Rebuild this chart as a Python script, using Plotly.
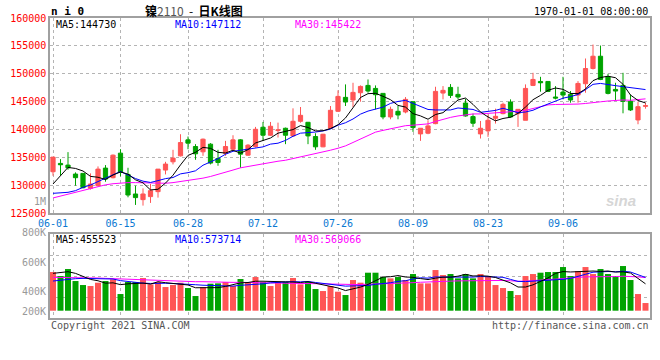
import plotly.graph_objects as go
import pandas as pd

# ---------------- data ----------------
holidays = ["2021-06-14", "2021-09-20", "2021-09-21"]
dates = [d.strftime("%Y-%m-%d") for d in pd.bdate_range("2021-06-01", "2021-09-23")
         if d.strftime("%Y-%m-%d") not in holidays]

open_ = [132450, 133940, 133640, 132030, 132150, 129470, 129950, 133100, 131380, 135780,
         131970, 128460, 127450, 127990, 128880, 132750, 134230, 135300, 138160, 136970,
         136020, 137390, 134830, 135720, 136490, 138160, 135420, 136970, 140420, 138990,
         139830, 140240, 138870, 141490, 141310, 138760, 136910, 140240, 143280, 145780,
         145300, 146610, 147920, 147380, 146490, 142270, 143280, 143160, 145000, 139230,
         139350, 141070, 146550, 147560, 146310, 144760, 142330, 139230, 139770, 142030,
         142860, 144940, 142860, 141670, 147920, 148630, 148630, 145840, 146730, 146310,
         146190, 148220, 150950, 153150, 149460, 147200, 147920, 145060, 141730, 144170]
high = [135070, 134710, 135960, 132330, 132150, 132150, 133400, 133640, 135540, 136490,
        133160, 129950, 129470, 130250, 132920, 134230, 136380, 139170, 138760, 137390,
        138400, 137570, 136380, 137980, 138990, 138280, 137390, 140480, 141370, 141370,
        141250, 140360, 143810, 144050, 141370, 139350, 139230, 144230, 147030, 148100,
        148390, 147920, 148990, 147920, 146490, 144110, 144230, 145830, 145000, 140240,
        141670, 147680, 147800, 148160, 147680, 145540, 142860, 141550, 142740, 143750,
        144820, 145420, 143630, 148100, 150180, 149460, 148630, 147800, 149460, 146910,
        148690, 152740, 155240, 155060, 150000, 148390, 150180, 146250, 145000, 144820]
low = [131730, 131730, 132810, 129950, 129470, 129240, 129830, 130660, 131260, 131620,
       127870, 126500, 126380, 126860, 127810, 131970, 133760, 135190, 136490, 134590,
       135300, 133760, 133520, 135300, 136380, 133160, 135300, 136790, 137980, 138870,
       138580, 137390, 138760, 141250, 137390, 136380, 136850, 140180, 143160, 144230,
       144050, 145000, 146610, 143630, 141850, 141850, 141850, 142920, 139590, 137980,
       139170, 140960, 145420, 145660, 145420, 142330, 140480, 138400, 138700, 141080,
       142740, 142150, 140480, 141670, 147800, 146790, 146730, 145420, 145420, 144820,
       144820, 146610, 150770, 148870, 146310, 145300, 142920, 143340, 140960, 143750]
close = [135070, 133700, 133160, 131380, 129590, 130250, 132920, 131140, 135420, 132330,
         128280, 127810, 128460, 129060, 132920, 133820, 134890, 137680, 137570, 135660,
         138280, 134000, 134110, 136970, 138160, 135600, 137210, 140060, 138990, 140600,
         139950, 138990, 141490, 142560, 138870, 136910, 139170, 143460, 145950, 144940,
         146670, 147740, 146910, 146250, 142270, 143630, 142620, 145420, 140360, 140240,
         140660, 146850, 147030, 146130, 145840, 142440, 141140, 140240, 141670, 142380,
         144530, 142270, 143630, 147380, 148990, 148390, 146850, 145660, 146190, 145300,
         148270, 150950, 153150, 148990, 146490, 146910, 145060, 143520, 144110, 144290]
volume = [663500, 594900, 715000, 509100, 440400, 423300, 480500, 509100, 537700, 286000,
          491900, 491900, 560600, 451900, 491900, 406100, 440400, 480500, 389000, 251700,
          406100, 463300, 469000, 491900, 423300, 543400, 491900, 577700, 491900, 423300,
          491900, 491900, 560600, 451900, 491900, 371800, 337500, 423300, 326000, 268800,
          526200, 480500, 652100, 652100, 577700, 554800, 577700, 526200, 629200, 469000,
          469000, 697800, 612000, 629200, 554800, 629200, 554800, 629200, 594900, 440400,
          389000, 337500, 268800, 594900, 629200, 652100, 663500, 663500, 749300, 594900,
          680700, 749300, 629200, 715000, 629200, 594900, 766500, 526200, 286000, 131600]

# moving-average values for the first days (history before 06-01)
ma5_head = [130250, 131730, 133220, 133040]
ma10_head = [128580, 128640, 128760, 129060, 129650, 130070, 130720, 131320, 131910]
ma30_head = [127750, 128100, 128450, 128800, 129150, 129500, 129800, 130100, 130300, 130450,
             130500, 130500, 130450, 130400, 130350, 130380, 130500, 130700, 130850, 131100,
             131300, 131600, 131950, 132300, 132750, 133150, 133400, 133600, 133850]
vma5_head = [640600, 652100, 669200, 640600]
vma10_head = [509100, 526200, 543400, 549100, 554800, 554800, 554800, 554800, 543400]
vma30_head = [572000, 572000, 572000, 566300, 566300, 560600, 560600, 554800, 549100, 543400,
              537700, 532000, 526200, 520500, 514800, 514800, 509100, 503400, 503400, 497600,
              497600, 491900, 491900, 491900, 486200, 486200, 486200, 486200, 480500]

price_ticks = [125000, 130000, 135000, 140000, 145000, 150000, 155000, 160000]
x_tick_dates = ["2021-06-01", "2021-06-15", "2021-06-28", "2021-07-12",
                "2021-07-26", "2021-08-09", "2021-08-23", "2021-09-06"]
x_tick_text = ["06-01", "06-15", "06-28", "07-12", "07-26", "08-09", "08-23", "09-06"]
vol_tick_labels = ["1M", "800K", "600K", "400K", "200K"]

price_ma_text = ["MA5:144730", "MA10:147112", "MA30:145422"]
vol_ma_text = ["MA5:455523", "MA10:573714", "MA30:569066"]


def moving_avg(vals, n, head):
    out = []
    for i in range(len(vals)):
        if i < n - 1:
            out.append(head[i])
        else:
            out.append(sum(vals[i - n + 1:i + 1]) / n)
    return out


ma5 = moving_avg(close, 5, ma5_head)
ma10 = moving_avg(close, 10, ma10_head)
ma30 = moving_avg(close, 30, ma30_head)
vma5 = moving_avg(volume, 5, vma5_head)
vma10 = moving_avg(volume, 10, vma10_head)
vma30 = moving_avg(volume, 30, vma30_head)

RED = "#ff5555"
GREEN = "#00a300"
MONO = "DejaVu Sans Mono"
vol_colors = [RED if c >= o else GREEN for o, c in zip(open_, close)]

fig = go.Figure()
fig.add_trace(go.Candlestick(
    x=dates, open=open_, high=high, low=low, close=close,
    increasing=dict(line=dict(color=RED, width=1), fillcolor=RED),
    decreasing=dict(line=dict(color=GREEN, width=1), fillcolor=GREEN),
    whiskerwidth=0, xaxis="x", yaxis="y", showlegend=False))
for vals, col in [(ma30, "#ff00ff"), (ma10, "#0000ff"), (ma5, "#000000")]:
    fig.add_trace(go.Scatter(x=dates, y=vals, mode="lines", line=dict(color=col, width=1),
                             xaxis="x", yaxis="y", showlegend=False))

fig.add_trace(go.Bar(x=dates, y=volume, marker=dict(color=vol_colors, line=dict(width=0)),
                     xaxis="x2", yaxis="y2", showlegend=False))
for vals, col in [(vma30, "#ff00ff"), (vma10, "#0000ff"), (vma5, "#000000")]:
    fig.add_trace(go.Scatter(x=dates, y=vals, mode="lines", line=dict(color=col, width=1),
                             xaxis="x2", yaxis="y2", showlegend=False))

T, B = 18, 42
H = 360 - T - B


def py(ypx):
    return (360 - B - ypx) / H


def px(xpx):
    return (xpx - 50) / 600


grid = dict(showgrid=True, gridcolor="#b4b4b4", griddash="dot", gridwidth=1)
frame = dict(showline=True, mirror=True, linecolor="#a0a0a0", linewidth=1.5,
             zeroline=False, automargin=False)

vol_lo, vol_hi = -125300, 1311000
fig.update_layout(
    width=660, height=360,
    margin=dict(l=50, r=10, t=T, b=B, autoexpand=False),
    paper_bgcolor="white", plot_bgcolor="white",
    showlegend=False, bargap=0.2, boxgap=0.2,
    font=dict(family=MONO, size=10),
    xaxis=dict(type="category", range=[-0.4, 79.6], anchor="y",
               tickvals=x_tick_dates, ticktext=x_tick_text,
               tickfont=dict(color="#0a78d2", size=10, family=MONO),
               ticks="", rangeslider=dict(visible=False), **grid, **frame),
    yaxis=dict(domain=[py(213.3), 1], range=[125000, 160000], anchor="x",
               tickvals=price_ticks, ticktext=[str(v) for v in price_ticks],
               tickfont=dict(color="#ff0000", size=10, family=MONO),
               ticks="", **grid, **frame),
    xaxis2=dict(type="category", range=[-0.4, 79.6], anchor="y2", matches="x",
                tickvals=x_tick_dates, showticklabels=False, ticks="", **grid, **frame),
    yaxis2=dict(domain=[0, py(234.3)], range=[vol_lo, vol_hi], anchor="x2",
                tick0=vol_lo, dtick=(vol_hi - vol_lo) / 4, showticklabels=False,
                ticks="", **grid, **frame),
)

ann = []


def add_text(text, xpx, ypx, color="#000000", size=10, xanchor="left", family=MONO, **kw):
    ann.append(dict(text=text, x=px(xpx), y=py(ypx), xref="paper", yref="paper",
                    xanchor=xanchor, yanchor="middle", showarrow=False, borderpad=0,
                    font=dict(color=color, size=size, family=family), **kw))


add_text("<b>n i 0</b>", 50, 12, size=11)
add_text("<b>镍</b><span style='color:#555555'>2110</span>  -  <b>日K线图</b>", 194, 11,
         size=12, xanchor="center", family="Noto Sans CJK SC")
add_text("1970-01-01 08:00:00", 649, 12, xanchor="right")

ma_cols = ["#000000", "#0000ff", "#ff00ff"]
for t, x0, c in zip(price_ma_text, [55, 174, 294], ma_cols):
    add_text(t, x0, 24, color=c)
for t, x0, c in zip(vol_ma_text, [55, 174, 294], ma_cols):
    add_text(t, x0, 239, color=c)

for t, yy in zip(vol_tick_labels, [201, 232, 262, 291, 311]):
    add_text(t, 47, yy, color="#999999", xanchor="right")

add_text("Copyright 2021 SINA.COM", 50, 325, color="#555555")
add_text("http://finance.sina.com.cn", 650, 325, color="#555555", xanchor="right")
add_text("<b><i>sina</i></b>", 621, 200, color="#d6d6d6", size=15, xanchor="center",
         family="Liberation Sans")

fig.update_layout(annotations=ann)
fig.write_html("out.html", config={"displayModeBar": False},
               post_script="document.body.style.margin='0px';")
